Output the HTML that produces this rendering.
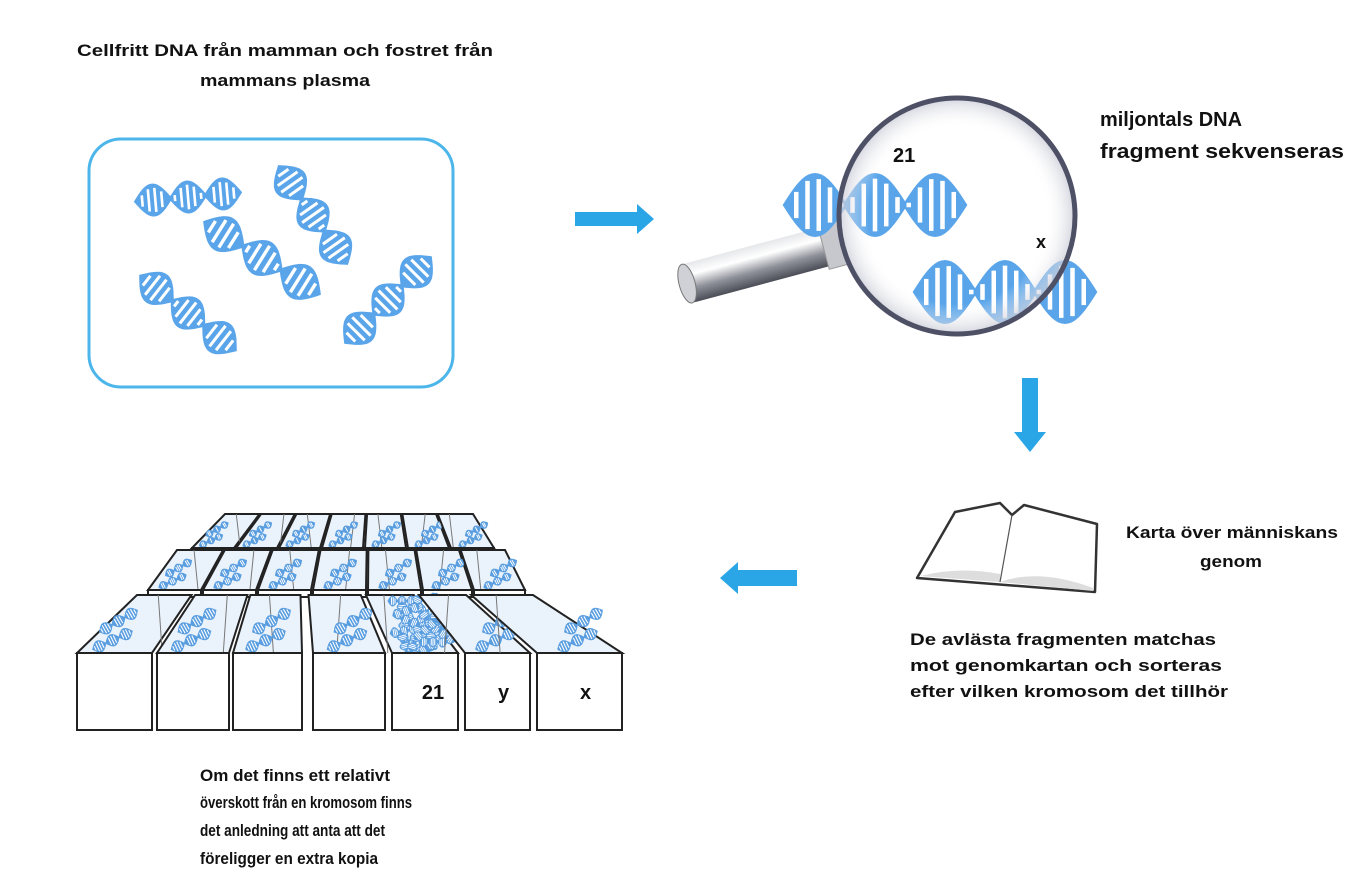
<!DOCTYPE html>
<html><head><meta charset="utf-8"><style>
html,body{margin:0;padding:0;background:#fff;width:1351px;height:895px;overflow:hidden}
svg{display:block}
text{font-family:"Liberation Sans",sans-serif;font-weight:bold;fill:#111}
</style></head><body>
<svg id="s" width="1351" height="895" viewBox="0 0 1351 895" xmlns="http://www.w3.org/2000/svg">
<defs>
<linearGradient id="hg" x1="0" y1="0" x2="0" y2="1">
<stop offset="0" stop-color="#e6e7ea"/><stop offset="0.3" stop-color="#ffffff"/><stop offset="0.65" stop-color="#8f919a"/><stop offset="1" stop-color="#4b4d56"/>
</linearGradient>
<radialGradient id="lg" cx="0.5" cy="0.5" r="0.5">
<stop offset="0.75" stop-color="#ffffff" stop-opacity="0"/><stop offset="1" stop-color="#c9cbd6" stop-opacity="0.8"/>
</radialGradient>
</defs>
<text x="285" y="56" text-anchor="middle" font-size="17" textLength="416" lengthAdjust="spacingAndGlyphs">Cellfritt DNA från mamman och fostret från</text>
<text x="285" y="86" text-anchor="middle" font-size="17" textLength="170" lengthAdjust="spacingAndGlyphs">mammans plasma</text>
<rect x="89" y="139" width="364" height="248" rx="32" fill="#fff" stroke="#4cb6ea" stroke-width="3"/>
<g id="dna"></g>
<polygon points="575,212 637,212 637,204 654,219 637,234 637,226 575,226" fill="#2aa6e6"/>
<polygon points="1022,378 1038,378 1038,432 1046,432 1030,452 1014,432 1022,432" fill="#2aa6e6"/>
<polygon points="797,570 738,570 738,562 720,578 738,594 738,586 797,586" fill="#2aa6e6"/>
<g id="mag"></g>
<text x="1100" y="126" font-size="20" textLength="142" lengthAdjust="spacingAndGlyphs">miljontals DNA</text>
<text x="1100" y="158" font-size="20" textLength="244" lengthAdjust="spacingAndGlyphs">fragment sekvenseras</text>
<path d="M917,578 L955,512 L1000,503 L1012,515 L1024,505 L1097,524 L1095,592 L917,578 Z" fill="#fff" stroke="#333" stroke-width="2.5" stroke-linejoin="round"/>
<path d="M920,576 Q960,566 1000,574 L1000,582 Z" fill="#ddd"/>
<path d="M1000,582 Q1040,568 1093,588 L1093,591 Z" fill="#ddd"/>
<line x1="1012" y1="515" x2="1000" y2="582" stroke="#555" stroke-width="1.2"/>
<text x="1126" y="538" font-size="17" textLength="212" lengthAdjust="spacingAndGlyphs">Karta över människans</text>
<text x="1200" y="567" font-size="17" textLength="62" lengthAdjust="spacingAndGlyphs">genom</text>
<text x="910" y="645" font-size="17" textLength="306" lengthAdjust="spacingAndGlyphs">De avlästa fragmenten matchas</text>
<text x="910" y="671" font-size="17" textLength="312" lengthAdjust="spacingAndGlyphs">mot genomkartan och sorteras</text>
<text x="910" y="697" font-size="17" textLength="318" lengthAdjust="spacingAndGlyphs">efter vilken kromosom det tillhör</text>
<g id="boxes"></g>
<text x="200" y="781" font-size="17" textLength="190" lengthAdjust="spacingAndGlyphs">Om det finns ett relativt</text>
<text x="200" y="808" font-size="17" textLength="212" lengthAdjust="spacingAndGlyphs">överskott från en kromosom finns</text>
<text x="200" y="836" font-size="17" textLength="185" lengthAdjust="spacingAndGlyphs">det anledning att anta att det</text>
<text x="200" y="864" font-size="17" textLength="178" lengthAdjust="spacingAndGlyphs">föreligger en extra kopia</text>
</svg>
<script>
var NS="http://www.w3.org/2000/svg";
function helix(parent,cx,cy,ang,len,amp,col,sw,turns){
  var g=document.createElementNS(NS,"g");
  g.setAttribute("transform","translate("+cx+","+cy+") rotate("+ang+")");
  var P=len/(turns||1.5),n=60,up="";
  for(var i=0;i<=n;i++){var x=-len/2+len*i/n;var y=amp*Math.sin(2*Math.PI*(x+len/2)/P);
    up+=(i?"L":"M")+x.toFixed(1)+","+y.toFixed(1);}
  for(var i=n;i>=0;i--){var x=-len/2+len*i/n;var y=-amp*Math.sin(2*Math.PI*(x+len/2)/P);
    up+="L"+x.toFixed(1)+","+y.toFixed(1);}
  var p=document.createElementNS(NS,"path");p.setAttribute("d",up+"Z");p.setAttribute("fill",col);
  p.setAttribute("stroke",col);p.setAttribute("stroke-width",sw);g.appendChild(p);
  var st=len/16;
  for(var x=-len/2+st;x<len/2;x+=st){var y=Math.abs(amp*Math.sin(2*Math.PI*(x+len/2)/P))-sw*0.9;
    if(y<2)continue;var l=document.createElementNS(NS,"line");
    l.setAttribute("x1",x);l.setAttribute("x2",x);l.setAttribute("y1",-y);l.setAttribute("y2",y);
    l.setAttribute("stroke","#fff");l.setAttribute("stroke-width",Math.max(1,st*0.4));g.appendChild(l);}
  parent.appendChild(g);
}
var C="#5aa5ea";
var d=document.getElementById("dna");
helix(d,188,197,-5,105,15,C,3);
helix(d,262,258,32,135,17,C,3);
helix(d,313,215,55,118,16,C,3);
helix(d,188,313,38,120,16,C,3);
helix(d,388,300,-45,120,16,C,3);
var m=document.getElementById("mag");
m.innerHTML='<g transform="rotate(-15 760 262)"><rect x="678" y="244" width="165" height="40" rx="10" fill="url(#hg)"/><ellipse cx="684" cy="264" rx="8" ry="20" fill="#d0d1d6" stroke="#777" stroke-width="1"/><rect x="825" y="241" width="20" height="46" fill="#c7c8ce" stroke="#999"/></g>';
helix(m,875,205,0,180,30,C,4,1.5);
helix(m,1005,292,0,180,30,C,4,1.5);
m.innerHTML+='<circle cx="957" cy="216" r="118" fill="url(#lg)" stroke="#4e5066" stroke-width="5"/><text x="893" y="162" font-size="20">21</text><text x="1036" y="248" font-size="18">x</text>';
var B=document.getElementById("boxes");
function row(xs,yF,yB,yBot,map,labels,dense){
  for(var i=0;i<xs.length;i++){
    var a=xs[i][0],b=xs[i][1],ba=map(a),bb=map(b);
    var g=document.createElementNS(NS,"g");B.appendChild(g);
    var q=document.createElementNS(NS,"polygon");
    q.setAttribute("points",a+","+yF+" "+b+","+yF+" "+bb+","+yB+" "+ba+","+yB);
    q.setAttribute("fill","#eaf3fc");q.setAttribute("stroke","#222");q.setAttribute("stroke-width","2");g.appendChild(q);
    var mx=(a+b)/2, mh=(yF-yB);
    var ln=document.createElementNS(NS,"line");ln.setAttribute("x1",(ba+bb)/2+(i%2?6:-6));ln.setAttribute("y1",yB);
    ln.setAttribute("x2",(ba+bb)/2+(i%2?2:-2));ln.setAttribute("y2",yF);ln.setAttribute("stroke","#777");ln.setAttribute("stroke-width","1");g.appendChild(ln);
    if(dense&&i==dense){for(var k=0;k<24;k++)helix(g,a+10+((k*37)%(b-a-20)),yB+6+((k*23)%Math.floor(mh-8)),(k*53)%180,28,5,"#5a9ee0",1);}
    else{helix(g,mx+4,yF-mh*0.55,-30,mh*0.75,mh*0.1,"#5a9ee0",1);helix(g,mx-2,yF-mh*0.22,-25,mh*0.75,mh*0.1,"#5a9ee0",1);}
    var r=document.createElementNS(NS,"rect");r.setAttribute("x",a);r.setAttribute("y",yF);r.setAttribute("width",b-a);
    r.setAttribute("height",yBot-yF);r.setAttribute("fill","#fff");r.setAttribute("stroke","#222");r.setAttribute("stroke-width","2");g.appendChild(r);
    if(labels&&labels[i]){var t=document.createElementNS(NS,"text");t.setAttribute("x",mx+(i==4?8:6));t.setAttribute("y",yF+46);
      t.setAttribute("text-anchor","middle");t.setAttribute("font-size","20");t.textContent=labels[i];g.appendChild(t);}
  }
}
row([[192,234],[236,277],[279,320],[322,363],[365,406],[408,449],[451,494]],548,514,553,function(x){return 225+(x-192)*(248/302);});
row([[148,201],[203,256],[258,311],[313,366],[368,421],[423,472],[474,525]],590,550,597,function(x){return 177+(x-148)*(328/377);});
row([[77,152],[157,229],[233,302],[313,385],[392,458],[465,530],[537,622]],653,595,730,function(x){return 137+(x-77)*(396/545);},["","","","","21","y","x"],4);
</script>
</body></html>
